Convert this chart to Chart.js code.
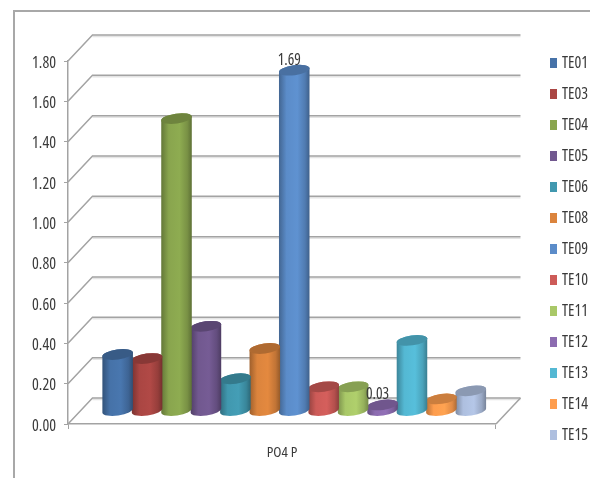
<!DOCTYPE html>
<html>
<head>
<meta charset="utf-8">
<title>PO4 P</title>
<script src="https://cdn.jsdelivr.net/npm/chart.js@4"></script>
<style>
  html, body { margin: 0; background: #fff; }
  #wrap { position: relative; width: 590px; height: 478px; overflow: hidden; }
  #frame { position: absolute; left: 13px; top: 10px; width: 600px; height: 500px;
           border-left: 2px solid #a8a8a8; border-top: 2px solid #a8a8a8; }
  canvas { position: absolute; left: 0; top: 0; }
</style>
</head>
<body>
<div id="wrap">
  <div id="frame"></div>
  <canvas id="chart" width="590" height="478"></canvas>
</div>
<script>
const categories = ['PO4 P'];
const stations = ['TE01', 'TE03', 'TE04', 'TE05', 'TE06', 'TE08', 'TE09', 'TE10', 'TE11', 'TE12', 'TE13', 'TE14', 'TE15'];
const po4 = [0.28, 0.26, 1.45, 0.42, 0.16, 0.31, 1.69, 0.12, 0.12, 0.03, 0.35, 0.06, 0.10];
const labelled = ['TE09', 'TE12'];
const colours = ['#4672a8', '#aa4643', '#89a54e', '#71588f', '#4198af', '#db843d', '#5b8cc9',
                 '#cd5b58', '#a9c868', '#8c6cb0', '#54b8d3', '#fe9d4e', '#aebfdf'];

const FONT = '"Open Sans", sans-serif';
const GREY = '#a3a3a3';
const TEXT = '#3a3a3a';
// floor depth, back wall sits this far up and right of the axis plane
const DEPTH_X = 24.5, DEPTH_Y = 26;

function shade(hex, f) {
  const n = parseInt(hex.slice(1), 16);
  const c = [n >> 16, (n >> 8) & 255, n & 255].map(v => Math.min(255, Math.round(v * f)));
  return 'rgb(' + c.join(',') + ')';
}

const walls = {
  id: 'walls',
  beforeDatasetsDraw(chart) {
    const {ctx, chartArea: a, scales: {y}} = chart;
    ctx.save();
    ctx.lineWidth = 1.5;
    y.ticks.forEach(t => {
      const py = y.getPixelForValue(t.value);
      // faint shadow under each back wall line
      ctx.strokeStyle = '#e4e4e4';
      ctx.beginPath();
      ctx.moveTo(a.left + DEPTH_X, py - DEPTH_Y + 1.5);
      ctx.lineTo(a.right + DEPTH_X, py - DEPTH_Y + 1.5);
      ctx.stroke();
      ctx.strokeStyle = GREY;
      ctx.beginPath();
      ctx.moveTo(a.left, py);
      ctx.lineTo(a.left + DEPTH_X, py - DEPTH_Y);
      ctx.lineTo(a.right + DEPTH_X, py - DEPTH_Y);
      ctx.stroke();
    });
    ctx.beginPath();
    ctx.moveTo(a.right, a.bottom);
    ctx.lineTo(a.right + DEPTH_X, a.bottom - DEPTH_Y);
    ctx.stroke();
    ctx.restore();
  }
};

function cylinder(ctx, bar, colour) {
  const cx = bar.x + DEPTH_X / 2;
  const top = bar.y - DEPTH_Y / 2;
  const base = bar.base - DEPTH_Y / 2;
  const rx = bar.width / 2 + 0.7, ry = 5, tilt = -0.14;
  const grad = ctx.createLinearGradient(cx - rx, 0, cx + rx, 0);
  grad.addColorStop(0, shade(colour, 0.72));
  grad.addColorStop(0.25, colour);
  grad.addColorStop(0.6, shade(colour, 1.04));
  grad.addColorStop(0.85, shade(colour, 0.88));
  grad.addColorStop(1, shade(colour, 0.68));
  ctx.beginPath();
  ctx.ellipse(cx, base, rx, ry, tilt, 0, Math.PI);
  ctx.ellipse(cx, top, rx, ry, tilt, Math.PI, Math.PI * 2);
  ctx.closePath();
  ctx.fillStyle = grad;
  ctx.fill();
  ctx.beginPath();
  ctx.ellipse(cx, top, rx, ry, tilt, 0, Math.PI * 2);
  ctx.fillStyle = shade(colour, 0.8);
  ctx.fill();
}

const cylinders = {
  id: 'cylinders',
  // every bar element gives its position, the flat rectangle is replaced by a cylinder
  beforeDatasetDraw(chart, args) {
    const bar = chart.getDatasetMeta(args.index).data[0];
    cylinder(chart.ctx, bar, chart.data.datasets[args.index].backgroundColor);
    return false;
  },
  afterDatasetsDraw(chart) {
    const ctx = chart.ctx;
    ctx.save();
    ctx.font = 'condensed 15.5px ' + FONT;
    ctx.fillStyle = TEXT;
    ctx.textAlign = 'center';
    ctx.textBaseline = 'middle';
    chart.data.datasets.forEach((ds, i) => {
      if (!labelled.includes(ds.label)) return;
      const bar = chart.getDatasetMeta(i).data[0];
      ctx.fillText(ds.data[0].toFixed(2), bar.x + DEPTH_X / 2 - 5, bar.y - DEPTH_Y / 2 - 10);
    });
    ctx.restore();
  },
  // legend sits beyond the floor depth, clear of the plot
  afterLayout(chart) {
    const l = chart.legend;
    const w = l.right - l.left;
    l.left = 553 - 15; l.right = l.left + w;
    l.top = 40; l.bottom = 478;
  }
};

new Chart('chart', {
  type: 'bar',
  data: {
    labels: categories,
    datasets: stations.map((name, i) => ({
      label: name,
      data: [po4[i]],
      backgroundColor: colours[i],
      borderColor: colours[i],
      borderWidth: 6
    }))
  },
  options: {
    responsive: false,
    animation: false,
    categoryPercentage: 0.894,
    barPercentage: 1,
    layout: {padding: {top: 61, right: 34, bottom: -8}},
    plugins: {
      tooltip: {enabled: false},
      legend: {
        position: 'right',
        align: 'start',
        labels: {
          boxWidth: 1,
          boxHeight: 4,
          padding: 15,
          color: TEXT,
          font: {family: FONT, size: 16, weight: 'condensed'}
        }
      }
    },
    scales: {
      x: {
        afterFit: s => { s.height = 62; },
        grid: {drawOnChartArea: false, color: GREY, tickLength: 5},
        border: {color: GREY, width: 1.5},
        ticks: {color: TEXT, padding: 15, font: {family: FONT, size: 15, weight: 'condensed'}}
      },
      y: {
        min: 0,
        max: 1.8,
        afterFit: s => { s.width = 68; },
        grid: {drawOnChartArea: false, color: GREY, tickLength: 4},
        border: {color: GREY, width: 1.5},
        ticks: {
          stepSize: 0.2,
          color: TEXT,
          padding: 8,
          labelOffset: 2,
          font: {family: FONT, size: 16, weight: 'condensed'},
          callback: v => v.toFixed(2)
        }
      }
    }
  },
  plugins: [walls, cylinders]
});
</script>
</body>
</html>
